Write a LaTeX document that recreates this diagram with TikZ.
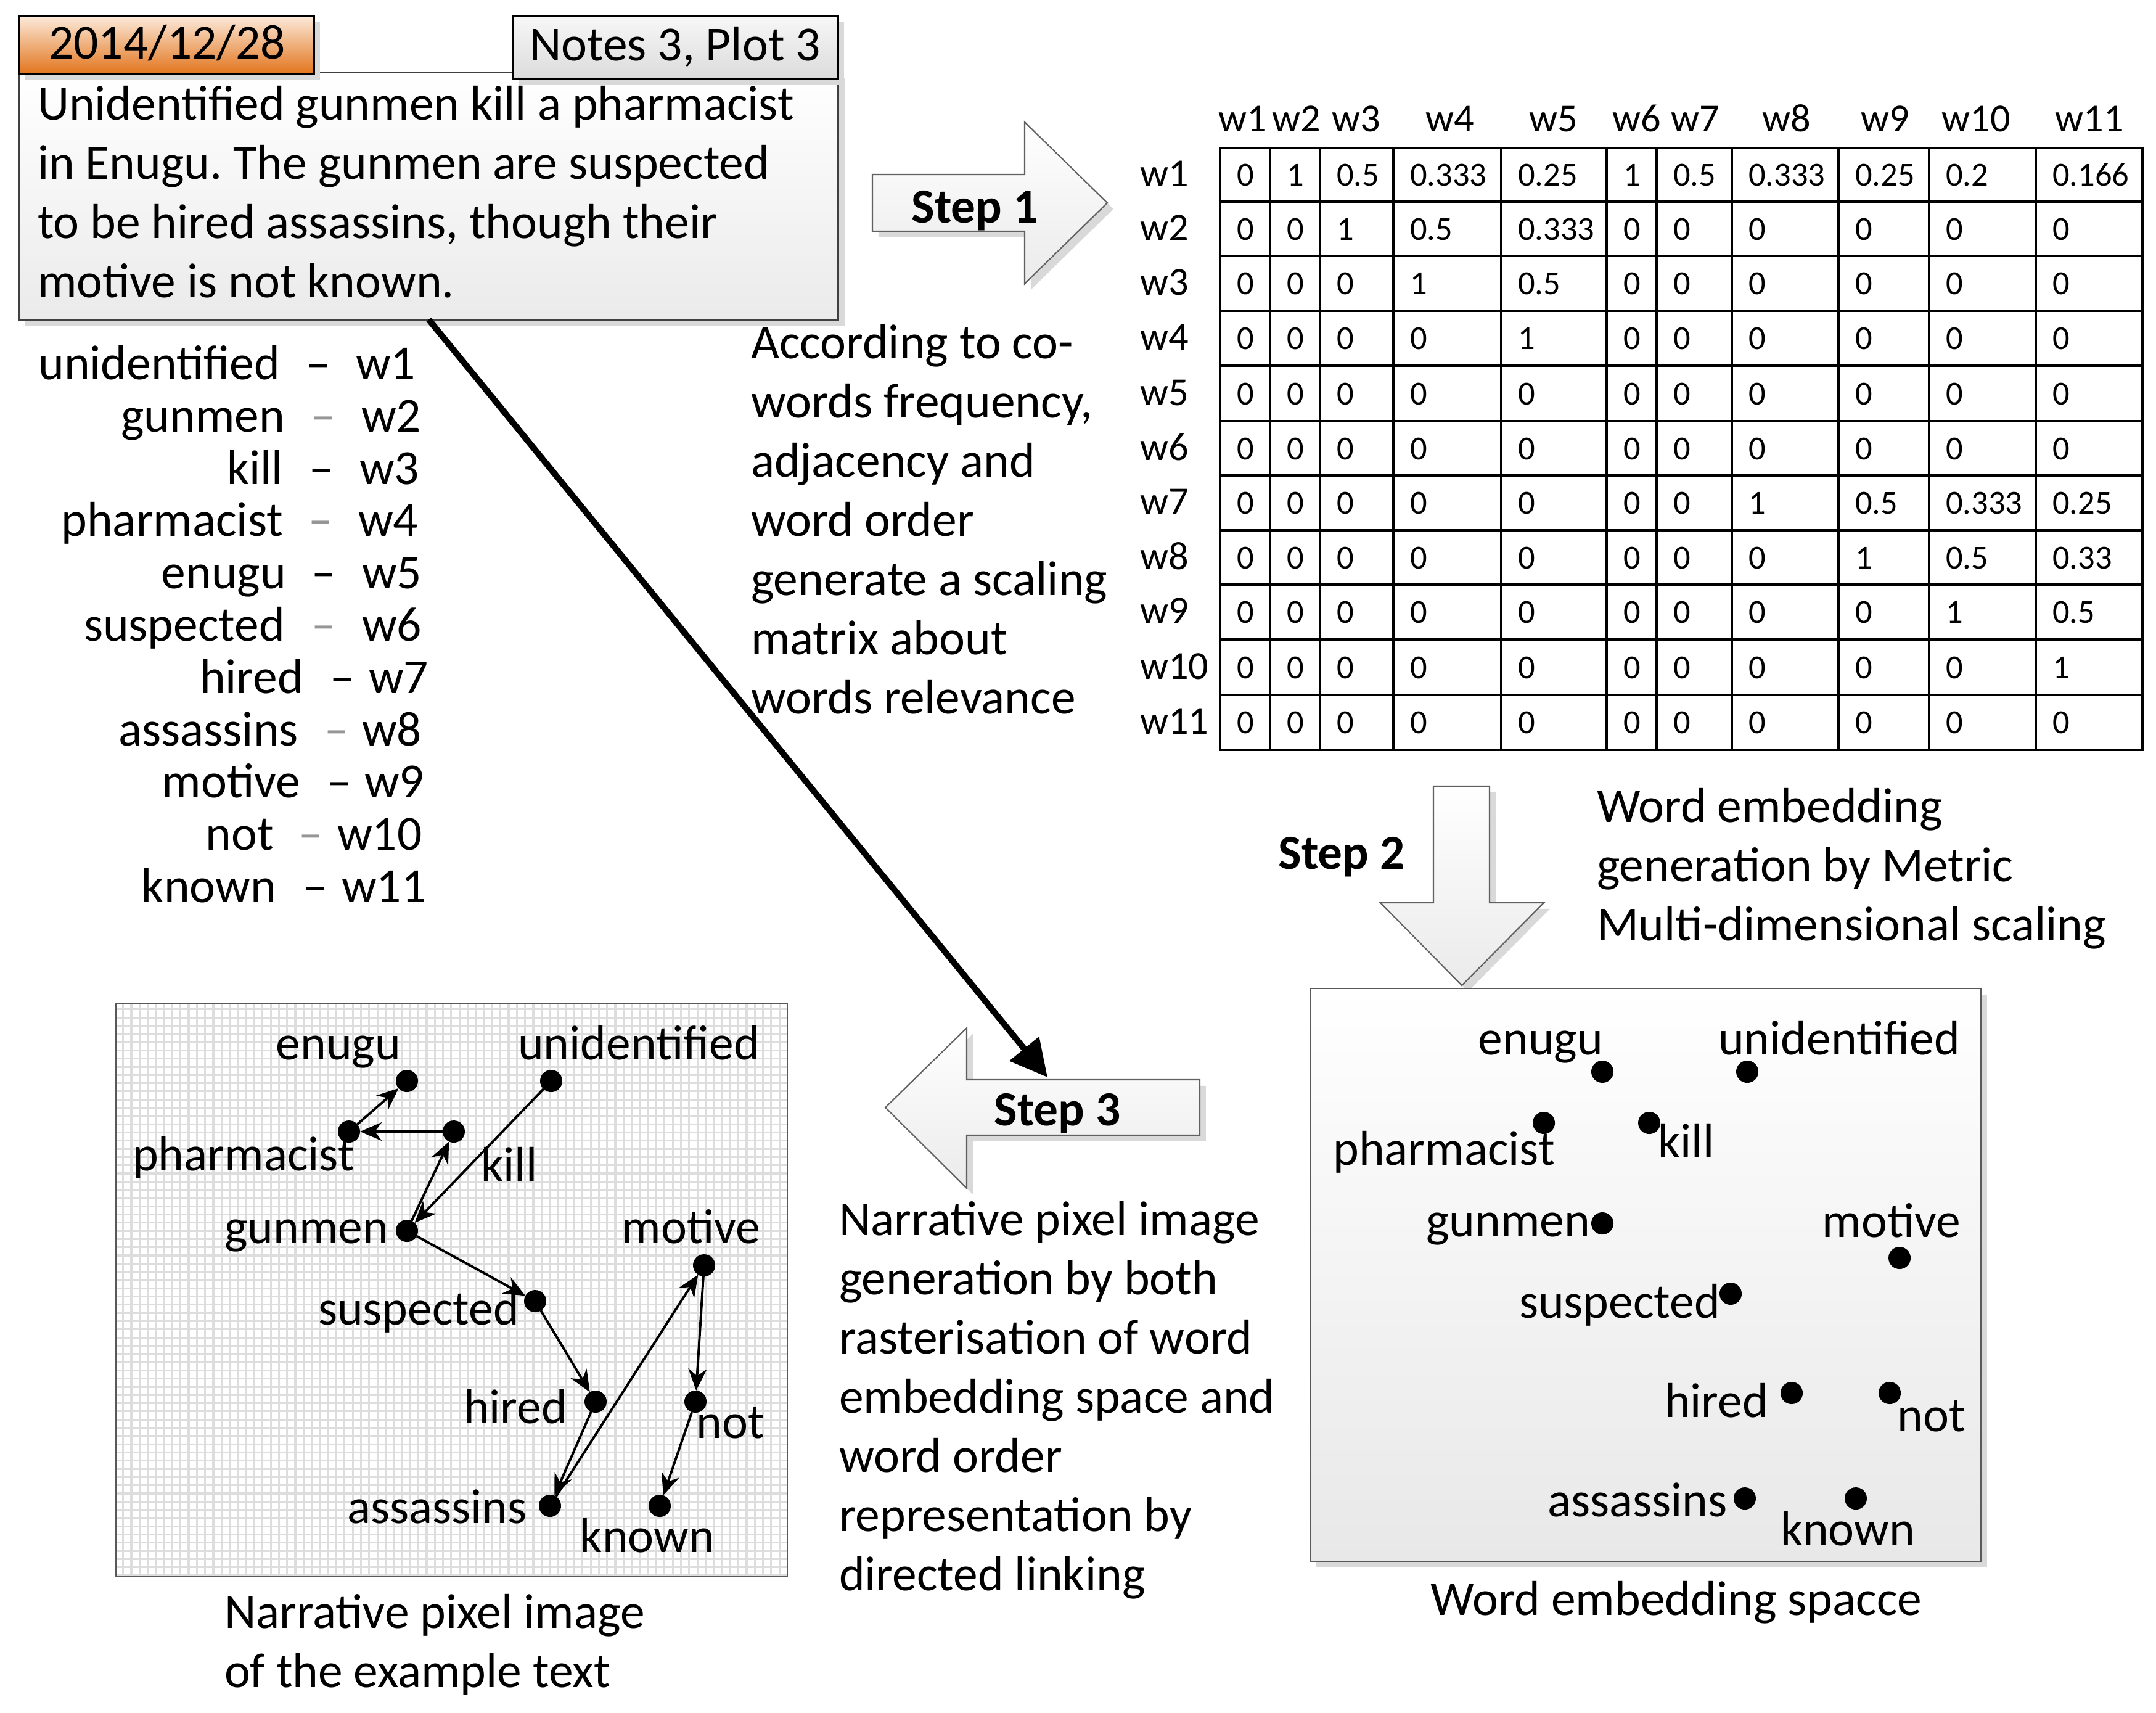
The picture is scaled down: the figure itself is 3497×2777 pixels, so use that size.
\documentclass[tikz,border=0pt]{standalone}
\usepackage{fontspec}
\setmainfont{Carlito}
\usetikzlibrary{arrows.meta,shadows,calc}
\frenchspacing
\newcommand\fsz{\fontsize{22.6}{27.3}\selectfont}
\newcommand\fsm{\fontsize{15.5}{18}\selectfont}
\newcommand\fsh{\fontsize{18.3}{22}\selectfont}
\definecolor{orangeA}{RGB}{252,234,218}
\definecolor{orangeB}{RGB}{226,116,28}
\definecolor{bord}{RGB}{64,64,64}
\definecolor{gridc}{RGB}{221,221,221}
\definecolor{dashg}{RGB}{150,150,150}
\begin{document}
\begin{tikzpicture}[x=0.01cm,y=-0.01cm,
  txt/.style={font=\fsz, inner sep=0pt, outer sep=0pt},
  txtb/.style={font=\fsz\bfseries, inner sep=0pt, outer sep=0pt},
  cell/.style={font=\fsm, inner sep=0pt, outer sep=0pt, anchor=base west},
  hdr/.style={font=\fsh, inner sep=0pt, outer sep=0pt},
  shad/.style={drop shadow={shadow xshift=2.8pt, shadow yshift=-2.8pt, fill=black!15, opacity=1}},
  mainbox/.style={draw=bord, line width=0.85pt, top color=white, bottom color=black!8, shad, inner sep=0pt, outer sep=0pt, anchor=north west},
  datebox/.style={draw=black, line width=0.85pt, top color=orangeA, bottom color=orangeB, shad, inner sep=0pt, outer sep=0pt, anchor=north west},
  notesbox/.style={draw=black, line width=0.85pt, top color=black!3, bottom color=black!14, shad, inner sep=0pt, outer sep=0pt, anchor=north west},
  steparrow/.style={draw=black!62, line width=0.6pt, top color=white, bottom color=black!8, shad},
  embbox/.style={draw=black!65, line width=0.6pt, top color=white, bottom color=black!9, shad, inner sep=0pt, outer sep=0pt, anchor=north west},
  pixbox/.style={draw=black!65, line width=0.6pt, inner sep=0pt, outer sep=0pt, anchor=north west},
  dot/.style={circle, fill=black, inner sep=0pt, outer sep=0pt, minimum size=0.36cm},
  warrow/.style={line width=1.1pt, -{Stealth[length=10pt,width=8.5pt]}},
  bigarrow/.style={line width=2.85pt, -{Triangle[length=17pt,width=17pt]}},
  mline/.style={line width=1.1pt, line cap=rect}
]
\useasboundingbox[fill=white] (0,0) rectangle (3497,2777);

% ---------- text box ----------
\node[mainbox, minimum width=13.28cm, minimum height=4.01cm] (main) at (31,117) {};
\node[datebox, minimum width=4.78cm, minimum height=0.94cm] (date) at (31,26) {};
\node[notesbox, minimum width=5.27cm, minimum height=1.02cm] (notes) at (832,26) {};
\node[txt, anchor=base] (datetxt) at (271,95) {2014/12/28};
\node[txt, anchor=base] (notestxt) at (1095,98) {Notes 3, Plot 3};
\node[txt, anchor=base west, align=left] (maintxt) at (61,482)
  {Unidentified gunmen kill a pharmacist\\in Enugu. The gunmen are suspected\\to be hired assassins, though their\\motive is not known.};

% ---------- word list ----------
\foreach \w/\y/\xr/\dx/\dc/\xl/\lab [count=\i] in {
  unidentified/615/454/516/black/577/w1,
  gunmen/700/462/524/dashg/586/w2,
  kill/785/459/521/black/583/w3,
  pharmacist/869/459/520/dashg/581/w4,
  enugu/954/464/525/black/587/w5,
  suspected/1039/462/525/dashg/587/w6,
  hired/1124/492/555/black/598/w7,
  assassins/1209/484/546/dashg/587/w8,
  motive/1293/487/550/black/591/w9,
  not/1378/444/504/dashg/547/w10,
  known/1463/448/511/black/554/w11}{
  \node[txt, anchor=base east] (wl\i) at (\xr,\y) {\w};
  \node[txt, anchor=base, text=\dc] (wd\i) at (\dx,\y) {–};
  \node[txt, anchor=base west] (ww\i) at (\xl,\y) {\lab};
}

% ---------- step 1 ----------
\path[steparrow] (1415,283) -- (1662,283) -- (1662,198) -- (1796,329) -- (1662,460) -- (1662,375) -- (1415,375) -- cycle;
\node[txtb, anchor=base] (s1) at (1581,361) {Step 1};
\node[txt, anchor=base west, align=left] (desc1) at (1218,1157)
  {According to co-\\words frequency,\\adjacency and\\word order\\generate a scaling\\matrix about\\words relevance};

% ---------- matrix ----------
\foreach \x/\t [count=\i] in {2016/w1,2103/w2,2200/w3,2352/w4,2520/w5,2655/w6,2750/w7,2898/w8,3058/w9,3205/w10,3389/w11}
  \node[hdr, anchor=base] (ch\i) at (\x,213) {\t};
\foreach \y [count=\i] in {302.5,390,478.5,567.5,657,746,834.5,923,1011.5,1101,1190.5}
  \node[hdr, anchor=base west] (rl\i) at (1849,\y) {w\i};
\foreach \x in {1979,2060,2141,2260,2435,2606,2687,2809,2982,3129,3302,3475}
  \draw[mline] (\x,240) -- (\x,1216);
\foreach \y in {240,327,415,504,593,683,771,860,948,1037,1127,1216}
  \draw[mline] (1979,\y) -- (3475,\y);
\foreach \r/\yb/\vals in {
  1/301.5/{0,1,0.5,0.333,0.25,1,0.5,0.333,0.25,0.2,0.166},
  2/389/{0,0,1,0.5,0.333,0,0,0,0,0,0},
  3/477.5/{0,0,0,1,0.5,0,0,0,0,0,0},
  4/566.5/{0,0,0,0,1,0,0,0,0,0,0},
  5/656/{0,0,0,0,0,0,0,0,0,0,0},
  6/745/{0,0,0,0,0,0,0,0,0,0,0},
  7/833.5/{0,0,0,0,0,0,0,1,0.5,0.333,0.25},
  8/922/{0,0,0,0,0,0,0,0,1,0.5,0.33},
  9/1010.5/{0,0,0,0,0,0,0,0,0,1,0.5},
  10/1100/{0,0,0,0,0,0,0,0,0,0,1},
  11/1189.5/{0,0,0,0,0,0,0,0,0,0,0}}{
  \foreach \v [count=\c] in \vals {
    \pgfmathsetmacro\xx{{1979,2060,2141,2260,2435,2606,2687,2809,2982,3129,3302}[\c-1]+27}
    \node[cell] (m-\r-\c) at (\xx,\yb) {\v};
  }
}

% ---------- step 2 ----------
\path[steparrow] (2325,1275) -- (2416,1275) -- (2416,1464) -- (2504,1464) -- (2371,1598) -- (2239,1464) -- (2325,1464) -- cycle;
\node[txtb, anchor=base] (s2) at (2176,1409) {Step 2};
\node[txt, anchor=base west, align=left] (desc2) at (2590,1525)
  {Word embedding\\generation by Metric\\Multi-dimensional scaling};

% ---------- embedding space ----------
\node[embbox, minimum width=10.87cm, minimum height=9.28cm] (emb) at (2125,1603) {};
\node[dot] (e-enugu) at (2599,1738) {};
\node[dot] (e-unid) at (2834,1738) {};
\node[dot] (e-pharm) at (2504,1821) {};
\node[dot] (e-kill) at (2675,1821) {};
\node[dot] (e-gunmen) at (2599,1984) {};
\node[dot] (e-motive) at (3081,2040) {};
\node[dot] (e-susp) at (2807,2098) {};
\node[dot] (e-hired) at (2906,2259) {};
\node[dot] (e-not) at (3065,2259) {};
\node[dot] (e-assas) at (2830,2430) {};
\node[dot] (e-known) at (3010,2430) {};
\node[txt, anchor=base] (el-enugu) at (2499,1710) {enugu};
\node[txt, anchor=base] (el-unid) at (2983,1710) {unidentified};
\node[txt, anchor=base] (el-pharm) at (2342,1889) {pharmacist};
\node[txt, anchor=base] (el-kill) at (2735,1877) {kill};
\node[txt, anchor=base] (el-gunmen) at (2446,2005) {gunmen};
\node[txt, anchor=base] (el-motive) at (3068,2006) {motive};
\node[txt, anchor=base] (el-susp) at (2627,2137) {suspected};
\node[txt, anchor=base] (el-hired) at (2784,2298) {hired};
\node[txt, anchor=base] (el-not) at (3133,2321) {not};
\node[txt, anchor=base] (el-assas) at (2656,2459) {assassins};
\node[txt, anchor=base] (el-known) at (2997,2506) {known};
\node[txt, anchor=base] (embcap) at (2719,2619) {Word embedding spacce};

% ---------- step 3 ----------
\path[steparrow] (1946,1751) -- (1568,1751) -- (1568,1667) -- (1436,1796) -- (1568,1927) -- (1568,1841) -- (1946,1841) -- cycle;
\node[txtb, anchor=base] (s3) at (1715,1825) {Step 3};
\node[txt, anchor=base west, align=left] (desc3) at (1361,2579)
  {Narrative pixel image\\generation by both\\rasterisation of word\\embedding space and\\word order\\representation by\\directed linking};

% ---------- big arrow ----------
\coordinate (s3top) at (1699,1747);
\draw[bigarrow] (main.south) -- (s3top);

% ---------- narrative pixel image ----------
\node[pixbox, minimum width=10.88cm, minimum height=9.28cm] (pix) at (188,1628) {};
\begin{scope}
  \clip (pix.south west) rectangle (pix.north east);
  \draw[gridc, line width=0.9pt, step=0.133cm] (pix.south west) grid (pix.north east);
\end{scope}
\node[pixbox, minimum width=10.88cm, minimum height=9.28cm] (pixframe) at (188,1628) {};
\node[dot] (p-enugu) at (660,1753) {};
\node[dot] (p-unid) at (894,1753) {};
\node[dot] (p-pharm) at (566,1835) {};
\node[dot] (p-kill) at (736,1835) {};
\node[dot] (p-gunmen) at (660,1996) {};
\node[dot] (p-motive) at (1142,2052) {};
\node[dot] (p-susp) at (868,2110) {};
\node[dot] (p-hired) at (966,2273) {};
\node[dot] (p-not) at (1128,2273) {};
\node[dot] (p-assas) at (892,2442) {};
\node[dot] (p-known) at (1070,2442) {};
\draw[warrow] (p-unid) -- (p-gunmen);
\draw[warrow] (p-gunmen) -- (p-kill);
\draw[warrow] (p-kill) -- (p-pharm);
\draw[warrow] (p-pharm) -- (p-enugu);
\draw[warrow] (p-gunmen) -- (p-susp);
\draw[warrow] (p-susp) -- (p-hired);
\draw[warrow] (p-hired) -- (p-assas);
\draw[warrow] (p-assas) -- (p-motive);
\draw[warrow] (p-motive) -- (p-not);
\draw[warrow] (p-not) -- (p-known);
\node[txt, anchor=base] (pl-enugu) at (549,1718) {enugu};
\node[txt, anchor=base] (pl-unid) at (1036,1718) {unidentified};
\node[txt, anchor=base] (pl-pharm) at (395,1898) {pharmacist};
\node[txt, anchor=base] (pl-kill) at (826,1915) {kill};
\node[txt, anchor=base] (pl-gunmen) at (497,2016) {gunmen};
\node[txt, anchor=base] (pl-motive) at (1121,2016) {motive};
\node[txt, anchor=base] (pl-susp) at (679,2148) {suspected};
\node[txt, anchor=base] (pl-hired) at (836,2308) {hired};
\node[txt, anchor=base] (pl-not) at (1185,2332) {not};
\node[txt, anchor=base] (pl-assas) at (709,2470) {assassins};
\node[txt, anchor=base] (pl-known) at (1050,2517) {known};
\node[txt, anchor=base west, align=left] (pixcap) at (364,2736)
  {Narrative pixel image\\of the example text};
\end{tikzpicture}
\end{document}
